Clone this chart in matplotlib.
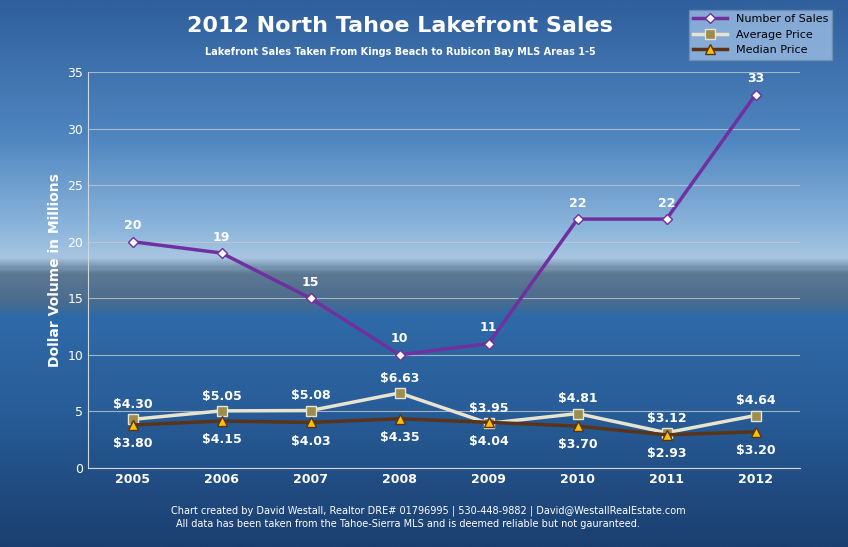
import numpy as np
import matplotlib
matplotlib.use("Agg")
import matplotlib.pyplot as plt
from matplotlib.colors import LinearSegmentedColormap

years = ["2005", "2006", "2007", "2008", "2009", "2010", "2011", "2012"]
num_sales = [20, 19, 15, 10, 11, 22, 22, 33]
avg_price = [4.30, 5.05, 5.08, 6.63, 3.95, 4.81, 3.12, 4.64]
med_price = [3.80, 4.15, 4.03, 4.35, 4.04, 3.70, 2.93, 3.20]
avg_labels = ["$4.30", "$5.05", "$5.08", "$6.63", "$3.95", "$4.81", "$3.12", "$4.64"]
med_labels = ["$3.80", "$4.15", "$4.03", "$4.35", "$4.04", "$3.70", "$2.93", "$3.20"]

fig = plt.figure(figsize=(8.48, 5.47), dpi=100)
bg = fig.add_axes([0, 0, 1, 1])
cmap = LinearSegmentedColormap.from_list("bg", [
    (0.0, "#2f5f9c"), (0.25, "#4f86c0"), (0.42, "#8db6dc"), (0.47, "#a8c6e2"),
    (0.50, "#5d7893"), (0.55, "#4a6c8e"), (0.58, "#2f6aa8"), (0.75, "#285d98"),
    (1.0, "#1b3f70")])
grad = np.linspace(0, 1, 300).reshape(-1, 1)
bg.imshow(grad, aspect="auto", cmap=cmap, extent=[0, 1, 0, 1])
bg.set_axis_off()

ax = fig.add_axes([88/848, 1-468/547, (800-88)/848, (468-72)/547])
ax.patch.set_alpha(0)
x = np.arange(len(years))
ax.set_xlim(-0.5, len(years)-0.5)
ax.set_ylim(0, 35)
ax.set_yticks(range(0, 36, 5))
ax.grid(axis="y", color="#c0c8d0", lw=0.8, alpha=0.8)
ax.set_axisbelow(True)
for s in ["top", "right"]:
    ax.spines[s].set_visible(False)
for s in ["left", "bottom"]:
    ax.spines[s].set_color("#d0d8e0")
ax.set_xticks(x)
ax.set_xticklabels(years, fontweight="bold")
ax.tick_params(colors="white", labelsize=9, length=0)
for t in ax.get_xticklabels() + ax.get_yticklabels():
    t.set_color("white")
ax.set_ylabel("Dollar Volume in Millions", color="white", fontweight="bold", fontsize=10)

ax.plot(x, num_sales, color="#7030a0", lw=2.5, marker="D", ms=5, mfc="white", mec="#7030a0", label="Number of Sales")
ax.plot(x, avg_price, color="#e8e4d0", lw=2.5, marker="s", ms=7, mfc="#9c8c50", mec="#e8e4d0", label="Average Price")
ax.plot(x, med_price, color="#5a3418", lw=2.5, marker="^", ms=7, mfc="#ffc000", mec="#5a3418", label="Median Price")

for xi, v in zip(x, num_sales):
    ax.annotate(str(v), (xi, v), xytext=(0, 9), textcoords="offset points", ha="center", color="white", fontsize=9, fontweight="bold")
for xi, v, l in zip(x, avg_price, avg_labels):
    ax.annotate(l, (xi, v), xytext=(0, 8), textcoords="offset points", ha="center", color="white", fontsize=9, fontweight="bold")
for xi, v, l in zip(x, med_price, med_labels):
    ax.annotate(l, (xi, v), xytext=(0, -16), textcoords="offset points", ha="center", color="white", fontsize=9, fontweight="bold")

fig.text(400/848, 1-26/547, "2012 North Tahoe Lakefront Sales", ha="center", va="center", color="white", fontsize=16, fontweight="bold")
fig.text(400/848, 1-52/547, "Lakefront Sales Taken From Kings Beach to Rubicon Bay MLS Areas 1-5", ha="center", va="center", color="white", fontsize=7, fontweight="bold")
fig.text(428/848, 1-511/547, "Chart created by David Westall, Realtor DRE# 01796995 | 530-448-9882 | David@WestallRealEstate.com", ha="center", va="center", color="white", fontsize=7)
fig.text(408/848, 1-524/547, "All data has been taken from the Tahoe-Sierra MLS and is deemed reliable but not gauranteed.", ha="center", va="center", color="white", fontsize=7)

leg = fig.legend(loc="upper right", bbox_to_anchor=(838/848, 1-4/547), fontsize=8, frameon=True, fancybox=False, handlelength=3)
leg.get_frame().set_facecolor("#9cbce4")
leg.get_frame().set_edgecolor("#7090b0")
fig.savefig("out.png", dpi=100)
